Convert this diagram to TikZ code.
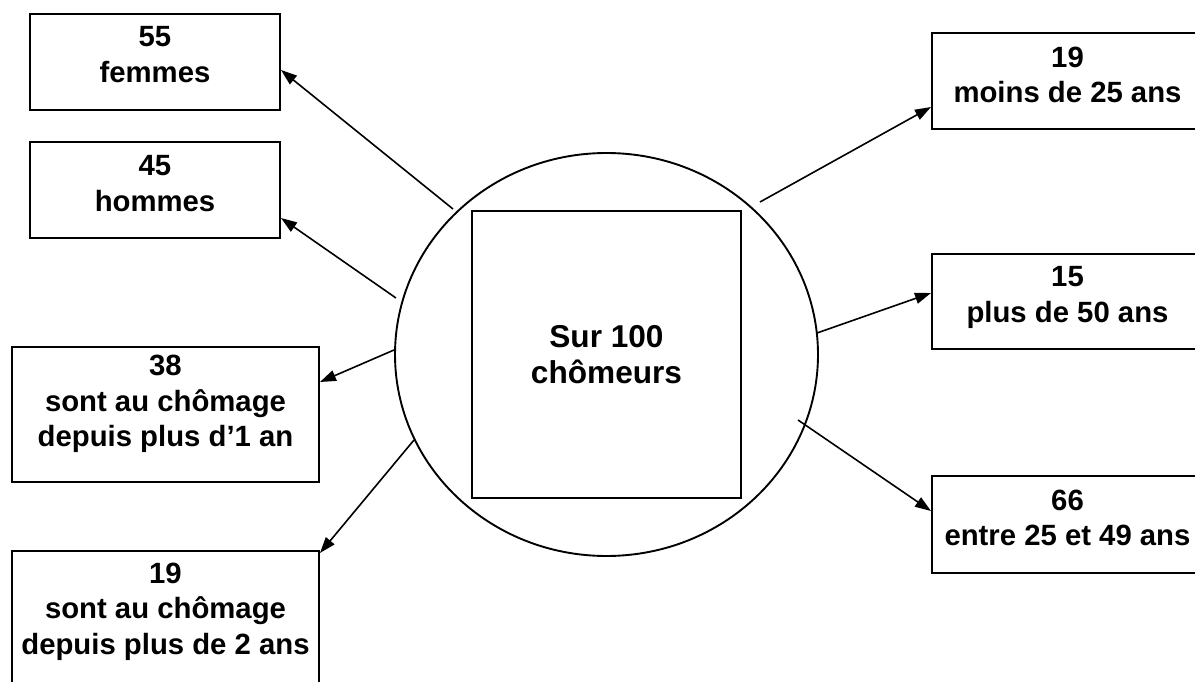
\documentclass[tikz,border=0pt]{standalone}
\usepackage{fontspec}
\setmainfont{Liberation Sans}
\usetikzlibrary{arrows.meta,calc,shapes.geometric}

\tikzset{
  infobox/.style={draw, line width=2pt, rectangle, inner sep=0pt, outer sep=0pt},
  infotext/.style={anchor=north, inner sep=0pt, align=center,
    font=\bfseries\fontsize{29.3}{35.5}\selectfont},
  centretext/.style={font=\bfseries\fontsize{31.6}{36}\selectfont, align=center},
  link/.style={line width=1.6pt, -{Triangle[length=16pt,width=11pt]}},
}

\begin{document}
\begin{tikzpicture}[x=1pt, y=-1pt]
  \useasboundingbox (0,0) rectangle (1195,682);
  \clip (0,0) rectangle (1195,682);

  % central circle and square
  \node[draw, ellipse, line width=1.9pt, inner sep=0pt, outer sep=0pt,
        minimum width=423pt, minimum height=403pt] (c) at (606.5,354.5) {};
  \node[infobox, centretext, minimum width=269pt, minimum height=287pt]
        (s) at (606.5,354.5) {Sur 100\\chômeurs};

  % left-hand boxes
  \node[infobox, minimum width=250pt, minimum height=96pt] (f) at (155,62) {};
  \node[infotext] (ft) at ($(f.north)+(0,12.5)$) {55\\femmes};

  \node[infobox, minimum width=250pt, minimum height=96pt] (h) at (155,190) {};
  \node[infotext] (ht) at ($(h.north)+(0,13.5)$) {45\\hommes};

  \node[infobox, minimum width=307pt, minimum height=135pt] (a1) at (165.5,414.5) {};
  \node[infotext] (a1t) at ($(a1.north)+(0,8)$) {38\\sont au chômage\\depuis plus d’1 an};

  \node[infobox, minimum width=307pt, minimum height=138pt] (a2) at (165.5,620) {};
  \node[infotext] (a2t) at ($(a2.north)+(0,11.5)$) {19\\sont au chômage\\depuis plus de 2 ans};

  % right-hand boxes
  \node[infobox, minimum width=271pt, minimum height=96pt] (m) at (1067.5,81) {};
  \node[infotext] (mt) at ($(m.north)+(0,13.5)$) {19\\moins de 25 ans};

  \node[infobox, minimum width=271pt, minimum height=95pt] (p) at (1067.5,301.5) {};
  \node[infotext] (pt) at ($(p.north)+(0,12.5)$) {15\\plus de 50 ans};

  \node[infobox, minimum width=271pt, minimum height=97pt] (e) at (1067.5,524.5) {};
  \node[infotext] (et) at ($(e.north)+(0,13.5)$) {66\\entre 25 et 49 ans};

  % starting points of the arrows on the circle
  \coordinate (tf) at (453,209);
  \coordinate (th) at (396,298);
  \coordinate (ta1) at (394,350);
  \coordinate (ta2) at (414,440);
  \coordinate (tm) at (760,202);
  \coordinate (tp) at (817,333);
  \coordinate (te) at (798,420);

  % arrows
  \draw[link] (tf) -- ($(f.east)+(1,8)$);
  \draw[link] (th) -- ($(h.east)+(1,28)$);
  \draw[link] (ta1) -- ($(a1.east)+(1,-32.5)$);
  \draw[link] (ta2) -- ($(a2.north east)+(1,2)$);
  \draw[link] (tm) -- ($(m.west)+(-1,26)$);
  \draw[link] (tp) -- ($(p.west)+(-1,-8.5)$);
  \draw[link] (te) -- ($(e.west)+(-1,-13.5)$);
\end{tikzpicture}
\end{document}
